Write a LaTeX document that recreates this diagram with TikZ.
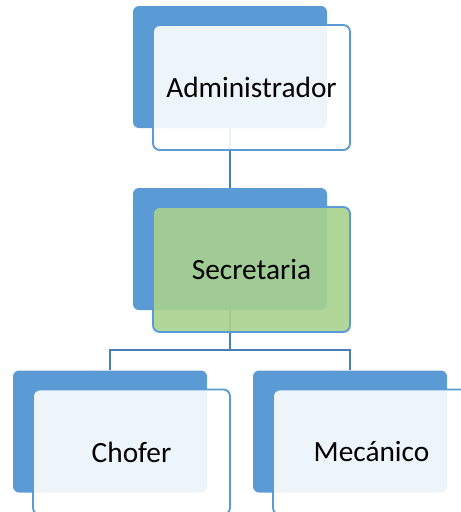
\documentclass[tikz,border=0pt]{standalone}
\usepackage{fontspec}
\setmainfont{Carlito}
\usetikzlibrary{calc}
\definecolor{BoxBlue}{RGB}{91,155,213}
\definecolor{LineBlue}{RGB}{72,126,180}
\definecolor{SecGreen}{RGB}{169,209,142}

\tikzset{
  backbox/.style={fill=BoxBlue,rounded corners=4.5pt,inner sep=0pt,
    minimum width=145.5pt,minimum height=91.5pt},
  frontbox/.style={draw=BoxBlue,line width=1.4pt,fill=white,fill opacity=0.9,text opacity=1,
    rounded corners=5pt,inner sep=0pt,minimum width=147.75pt,minimum height=93.75pt,
    font=\fontsize{22}{26}\selectfont},
  link/.style={draw=LineBlue,line width=1.2pt}
}

\begin{document}
\begin{tikzpicture}[x=0.75pt,y=-0.75pt]
\path[use as bounding box,clip] (0,0) rectangle (461,512);

\node[backbox] (adminback) at (230,67) {};
\node[backbox] (secback) at (230,249) {};
\node[backbox] (choferback) at (110,431.5) {};
\node[backbox] (mecback) at (350,431.5) {};

\coordinate (split) at ($(secback.south)+(0,40)$);
\draw[link] (adminback.south) -- (secback.north);
\draw[link] (secback.south) -- (split);
\draw[link] (split) -| (choferback.north);
\draw[link] (split) -| (mecback.north);

\node[frontbox] (admin) at ([shift={(21.5,20.5)}]adminback.center) {Administrador};
\node[frontbox,fill=SecGreen] (sec) at ([shift={(21.5,20.5)}]secback.center) {Secretaria};
\node[frontbox] (chofer) at ([shift={(21.5,20.5)}]choferback.center) {Chofer};
\node[frontbox] (mec) at ([shift={(21.5,20.5)}]mecback.center) {Mecánico};

\end{tikzpicture}
\end{document}
